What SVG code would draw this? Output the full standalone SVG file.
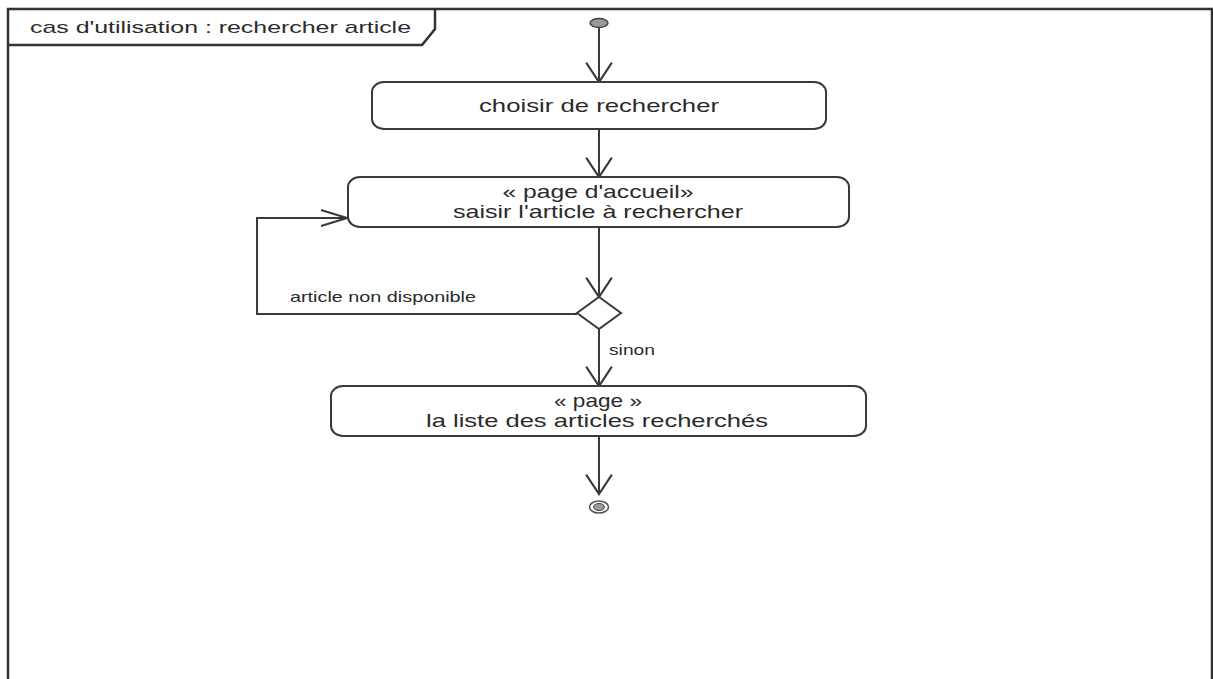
<svg xmlns="http://www.w3.org/2000/svg" width="1213" height="679" viewBox="0 0 1213 679">
  <style>
    text { font-family: "Liberation Sans", Arial, sans-serif; fill: #2b2b2b; }
    .frame { fill: none; stroke: #333; stroke-width: 2.5; }
    .action { fill: #ffffff; stroke: #3a3a3a; stroke-width: 2; }
    .flow { fill: none; stroke: #3a3a3a; stroke-width: 2; }
    .lbl { font-size: 19px; }
    .guard { font-size: 14.5px; }
  </style>
  <defs>
    <marker id="arrowV" markerUnits="userSpaceOnUse" markerWidth="30" markerHeight="30" viewBox="-20 -14 22 28" refX="0" refY="0" orient="auto">
      <path d="M-18,-12 L0,0 L-18,12" fill="none" stroke="#3a3a3a" stroke-width="2"/>
    </marker>
    <marker id="arrowH" markerUnits="userSpaceOnUse" markerWidth="30" markerHeight="30" viewBox="-28 -10 30 20" refX="0" refY="0" orient="auto">
      <path d="M-26,-8 L0,0 L-26,8" fill="none" stroke="#3a3a3a" stroke-width="2"/>
    </marker>
  </defs>

  <rect width="1213" height="679" fill="#ffffff"/>

  <!-- diagram frame with name tab -->
  <g id="frame">
    <path class="frame" d="M8,690 L8,9 L1212,9 L1212,690"/>
    <path class="frame" d="M435,9 L435,29 L422,45 L8,45"/>
    <text x="30" y="33" font-size="17" textLength="381" lengthAdjust="spacingAndGlyphs">cas d'utilisation : rechercher article</text>
  </g>

  <!-- control flows -->
  <g id="connectors">
    <line class="flow" x1="599" y1="27" x2="599" y2="82" marker-end="url(#arrowV)"/>
    <line class="flow" x1="599" y1="129" x2="599" y2="177" marker-end="url(#arrowV)"/>
    <line class="flow" x1="599" y1="227" x2="599" y2="297" marker-end="url(#arrowV)"/>
    <path class="flow" d="M577,314 L257,314 L257,218 L347,218" marker-end="url(#arrowH)"/>
    <text class="guard" x="290" y="302" textLength="186" lengthAdjust="spacingAndGlyphs">article non disponible</text>
    <line class="flow" x1="599" y1="329" x2="599" y2="386" marker-end="url(#arrowV)"/>
    <text class="guard" x="609" y="355" textLength="46" lengthAdjust="spacingAndGlyphs">sinon</text>
    <line class="flow" x1="599" y1="437" x2="599" y2="494" marker-end="url(#arrowV)"/>
  </g>

  <g id="initial">
    <ellipse cx="599" cy="23" rx="9" ry="4.5" fill="#9a9a9a" stroke="#444" stroke-width="1.5"/>
  </g>

  <g id="choisir">
    <rect class="action" x="372" y="82" width="454" height="47" rx="12" ry="10"/>
    <text class="lbl" x="599" y="112" font-size="20" text-anchor="middle" textLength="240" lengthAdjust="spacingAndGlyphs">choisir de rechercher</text>
  </g>

  <g id="saisir">
    <rect class="action" x="348" y="177" width="501" height="50" rx="12" ry="10"/>
    <text class="lbl" x="598" y="198" text-anchor="middle" textLength="191" lengthAdjust="spacingAndGlyphs">« page d'accueil»</text>
    <text class="lbl" x="598" y="218" text-anchor="middle" textLength="290" lengthAdjust="spacingAndGlyphs">saisir l'article à rechercher</text>
  </g>

  <g id="decision">
    <polygon points="599,297 621,313 599,329 577,313" fill="#ffffff" stroke="#3a3a3a" stroke-width="2"/>
  </g>

  <g id="liste">
    <rect class="action" x="331" y="386" width="535" height="50" rx="12" ry="10"/>
    <text class="lbl" x="598" y="407" text-anchor="middle" textLength="88" lengthAdjust="spacingAndGlyphs">« page »</text>
    <text class="lbl" x="597" y="427" text-anchor="middle" textLength="342" lengthAdjust="spacingAndGlyphs">la liste des articles recherchés</text>
  </g>

  <g id="final">
    <ellipse cx="599" cy="507" rx="9.5" ry="6" fill="#ffffff" stroke="#555" stroke-width="1.5"/>
    <ellipse cx="599" cy="507" rx="5.5" ry="3.5" fill="#9a9a9a" stroke="#444" stroke-width="1"/>
  </g>
</svg>
